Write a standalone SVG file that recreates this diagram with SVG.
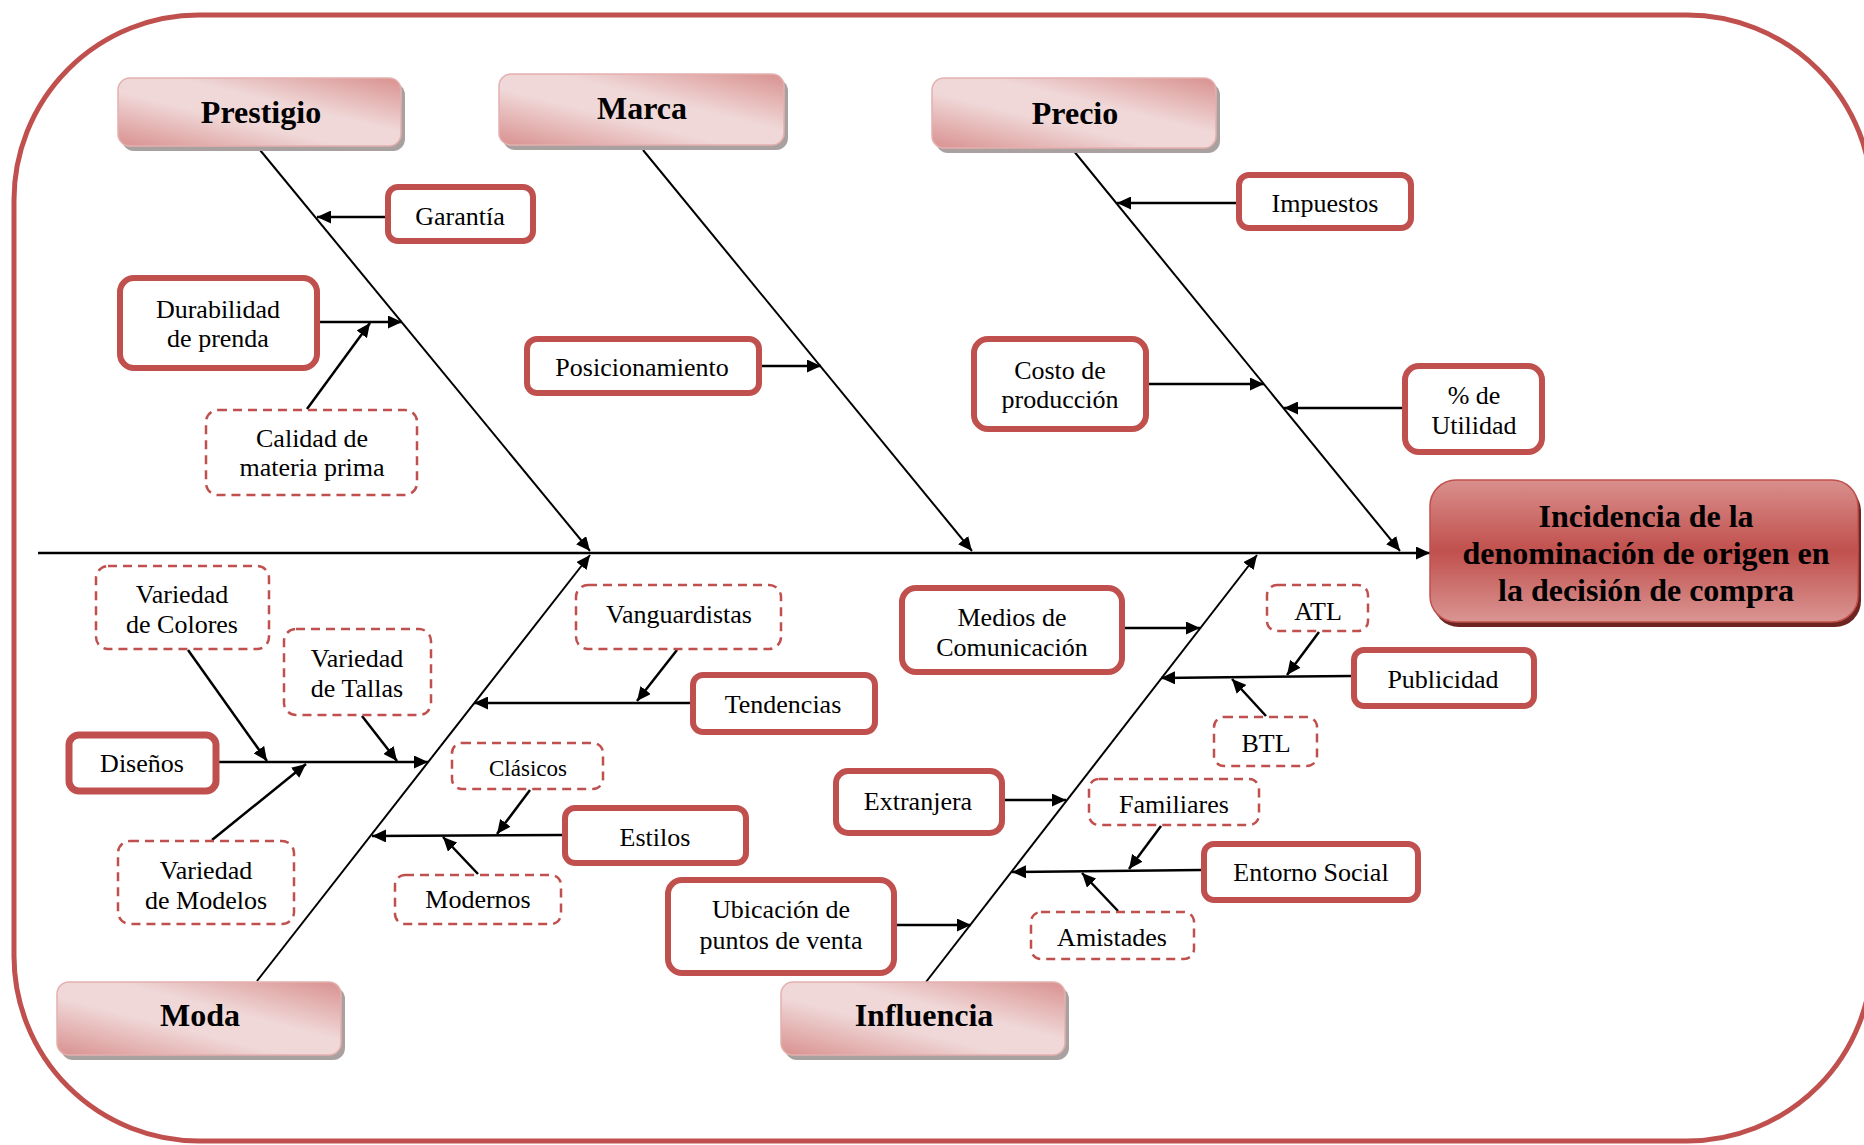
<svg xmlns="http://www.w3.org/2000/svg" width="1864" height="1145" viewBox="0 0 1864 1145">
<defs>
<linearGradient id="catGrad" x1="1" y1="0" x2="0" y2="1">
<stop offset="0" stop-color="#d8918f"/>
<stop offset="0.4" stop-color="#f0d8d8"/>
<stop offset="0.6" stop-color="#f0d8d8"/>
<stop offset="1" stop-color="#d8918f"/>
</linearGradient>
<linearGradient id="mainGrad" x1="0" y1="0" x2="0" y2="1">
<stop offset="0" stop-color="#d98f8c"/>
<stop offset="0.5" stop-color="#c0504d"/>
<stop offset="1" stop-color="#da9593"/>
</linearGradient>
<marker id="ah" markerUnits="userSpaceOnUse" markerWidth="15" markerHeight="13" refX="14" refY="6.5" orient="auto">
<path d="M0,0 L14,6.5 L0,13 z" fill="#000"/>
</marker>
<style>
.frame{fill:#fff;stroke:#c0504d;stroke-width:5}
.cat{fill:url(#catGrad);stroke:#e3b0ae;stroke-width:1.5}
.catsh{fill:#a9a0a0}
.solid{fill:#fff;stroke:#c0504d;stroke-width:6}
.dash{fill:#fff;stroke:#c0504d;stroke-width:2.5;stroke-dasharray:9 6}
.t{font-family:"Liberation Serif","Times New Roman",serif;font-size:26px;fill:#000;text-anchor:middle}
.tb{font-family:"Liberation Serif","Times New Roman",serif;font-size:32px;font-weight:bold;fill:#000;text-anchor:middle}
.sub{stroke:#000;stroke-width:2.5;fill:none;marker-end:url(#ah)}
.bone{stroke:#000;stroke-width:2;fill:none;marker-end:url(#ah)}
</style>
</defs>
<rect class="frame" x="14" y="15" width="1858" height="1126" rx="185" ry="185"/>

<g id="connectors">
<line class="sub" x1="38" y1="553" x2="1430" y2="553"/>
<line class="bone" x1="260" y1="150" x2="590" y2="551"/>
<line class="bone" x1="643" y1="150" x2="972" y2="551"/>
<line class="bone" x1="1073" y1="150" x2="1400" y2="551"/>
<line class="bone" x1="257" y1="981" x2="590" y2="555"/>
<line class="bone" x1="926" y1="982" x2="1257" y2="555"/>
<line class="sub" x1="385" y1="217" x2="317" y2="217"/>
<line class="sub" x1="320" y1="322" x2="402" y2="322"/>
<line class="sub" x1="307" y1="409" x2="370" y2="323"/>
<line class="sub" x1="762" y1="366" x2="821" y2="366"/>
<line class="sub" x1="1236" y1="203" x2="1117" y2="203"/>
<line class="sub" x1="1149" y1="384" x2="1264" y2="384"/>
<line class="sub" x1="1402" y1="408" x2="1284" y2="408"/>
<line class="sub" x1="218" y1="762" x2="428" y2="762"/>
<line class="sub" x1="188" y1="650" x2="267" y2="761"/>
<line class="sub" x1="362" y1="716" x2="397" y2="761"/>
<line class="sub" x1="212" y1="840" x2="306" y2="764"/>
<line class="sub" x1="690" y1="703" x2="474" y2="703"/>
<line class="sub" x1="677" y1="650" x2="637" y2="701"/>
<line class="sub" x1="562" y1="835" x2="372" y2="836"/>
<line class="sub" x1="530" y1="790" x2="497" y2="834"/>
<line class="sub" x1="478" y1="874" x2="443" y2="837"/>
<line class="sub" x1="1125" y1="628" x2="1200" y2="628"/>
<line class="sub" x1="1351" y1="676" x2="1161" y2="678"/>
<line class="sub" x1="1319" y1="632" x2="1287" y2="675"/>
<line class="sub" x1="1266" y1="716" x2="1232" y2="679"/>
<line class="sub" x1="1005" y1="800" x2="1066" y2="800"/>
<line class="sub" x1="1201" y1="870" x2="1012" y2="872"/>
<line class="sub" x1="1161" y1="826" x2="1129" y2="869"/>
<line class="sub" x1="1118" y1="911" x2="1082" y2="873"/>
<line class="sub" x1="897" y1="925" x2="971" y2="925"/>
</g>

<g id="incidencia">
<rect x="1433" y="485" width="428" height="142" rx="26" fill="#6e2422"/>
<rect x="1430" y="480" width="428" height="142" rx="26" fill="url(#mainGrad)" stroke="#c0504d" stroke-width="1.5"/>
<text class="tb" x="1646" y="527">Incidencia de la</text>
<text class="tb" x="1646" y="564">denominación de origen en</text>
<text class="tb" x="1646" y="601">la decisión de compra</text>
</g>

<g id="prestigio">
<rect class="catsh" x="122" y="83" width="283" height="68" rx="12"/>
<rect class="cat" x="118" y="78" width="283" height="68" rx="12"/>
<text class="tb" x="261" y="123">Prestigio</text>
</g>
<g id="marca">
<rect class="catsh" x="503" y="79" width="285" height="71" rx="12"/>
<rect class="cat" x="499" y="74" width="285" height="71" rx="12"/>
<text class="tb" x="642" y="119">Marca</text>
</g>
<g id="precio">
<rect class="catsh" x="936" y="83" width="284" height="70" rx="12"/>
<rect class="cat" x="932" y="78" width="284" height="70" rx="12"/>
<text class="tb" x="1075" y="124">Precio</text>
</g>
<g id="moda">
<rect class="catsh" x="61" y="987" width="284" height="73" rx="12"/>
<rect class="cat" x="57" y="982" width="284" height="73" rx="12"/>
<text class="tb" x="200" y="1026">Moda</text>
</g>
<g id="influencia">
<rect class="catsh" x="785" y="987" width="284" height="73" rx="12"/>
<rect class="cat" x="781" y="982" width="284" height="73" rx="12"/>
<text class="tb" x="924" y="1026">Influencia</text>
</g>

<g id="garantia"><rect class="solid" x="388" y="187" width="145" height="54" rx="10"/><text class="t" x="460" y="225">Garantía</text></g>
<g id="durabilidad"><rect class="solid" x="120" y="278" width="197" height="90" rx="14"/><text class="t" x="218" y="318">Durabilidad</text><text class="t" x="218" y="347">de prenda</text></g>
<g id="calidad"><rect class="dash" x="206" y="410" width="211" height="85" rx="12"/><text class="t" x="312" y="447">Calidad de</text><text class="t" x="312" y="476">materia prima</text></g>
<g id="posicionamiento"><rect class="solid" x="527" y="339" width="232" height="54" rx="10"/><text class="t" x="642" y="376">Posicionamiento</text></g>
<g id="impuestos"><rect class="solid" x="1239" y="175" width="172" height="53" rx="10"/><text class="t" x="1325" y="212">Impuestos</text></g>
<g id="costo"><rect class="solid" x="974" y="339" width="172" height="90" rx="14"/><text class="t" x="1060" y="379">Costo de</text><text class="t" x="1060" y="408">producción</text></g>
<g id="utilidad"><rect class="solid" x="1405" y="366" width="137" height="86" rx="14"/><text class="t" x="1474" y="404">% de</text><text class="t" x="1474" y="434">Utilidad</text></g>

<g id="colores"><rect class="dash" x="96" y="566" width="173" height="83" rx="12"/><text class="t" x="182" y="603">Variedad</text><text class="t" x="182" y="633">de Colores</text></g>
<g id="tallas"><rect class="dash" x="284" y="629" width="147" height="86" rx="12"/><text class="t" x="357" y="667">Variedad</text><text class="t" x="357" y="697">de Tallas</text></g>
<g id="disenos"><rect class="solid" x="69" y="735" width="147" height="56" rx="10" style="stroke-width:7"/><text class="t" x="142" y="772">Diseños</text></g>
<g id="modelos"><rect class="dash" x="118" y="841" width="176" height="83" rx="12"/><text class="t" x="206" y="879">Variedad</text><text class="t" x="206" y="909">de Modelos</text></g>
<g id="vanguardistas"><rect class="dash" x="576" y="585" width="205" height="64" rx="12"/><text class="t" x="679" y="623">Vanguardistas</text></g>
<g id="tendencias"><rect class="solid" x="693" y="675" width="182" height="57" rx="10"/><text class="t" x="783" y="713">Tendencias</text></g>
<g id="clasicos"><rect class="dash" x="452" y="743" width="151" height="46" rx="10"/><text class="t" x="528" y="776" style="font-size:23px">Clásicos</text></g>
<g id="estilos"><rect class="solid" x="565" y="808" width="181" height="55" rx="10"/><text class="t" x="655" y="846">Estilos</text></g>
<g id="modernos"><rect class="dash" x="395" y="875" width="166" height="49" rx="10"/><text class="t" x="478" y="908">Modernos</text></g>

<g id="medios"><rect class="solid" x="902" y="588" width="220" height="84" rx="14"/><text class="t" x="1012" y="626">Medios de</text><text class="t" x="1012" y="656">Comunicación</text></g>
<g id="atl"><rect class="dash" x="1267" y="585" width="101" height="46" rx="10"/><text class="t" x="1318" y="620">ATL</text></g>
<g id="publicidad"><rect class="solid" x="1354" y="650" width="180" height="56" rx="10"/><text class="t" x="1443" y="688">Publicidad</text></g>
<g id="btl"><rect class="dash" x="1214" y="717" width="103" height="49" rx="10"/><text class="t" x="1266" y="752">BTL</text></g>
<g id="extranjera"><rect class="solid" x="836" y="771" width="166" height="62" rx="12"/><text class="t" x="918" y="810">Extranjera</text></g>
<g id="familiares"><rect class="dash" x="1089" y="779" width="170" height="46" rx="10"/><text class="t" x="1174" y="813">Familiares</text></g>
<g id="entorno"><rect class="solid" x="1204" y="844" width="214" height="56" rx="10"/><text class="t" x="1311" y="881">Entorno Social</text></g>
<g id="amistades"><rect class="dash" x="1031" y="912" width="163" height="47" rx="10"/><text class="t" x="1112" y="946">Amistades</text></g>
<g id="ubicacion"><rect class="solid" x="668" y="880" width="226" height="93" rx="14"/><text class="t" x="781" y="918">Ubicación de</text><text class="t" x="781" y="949">puntos de venta</text></g>
</svg>
